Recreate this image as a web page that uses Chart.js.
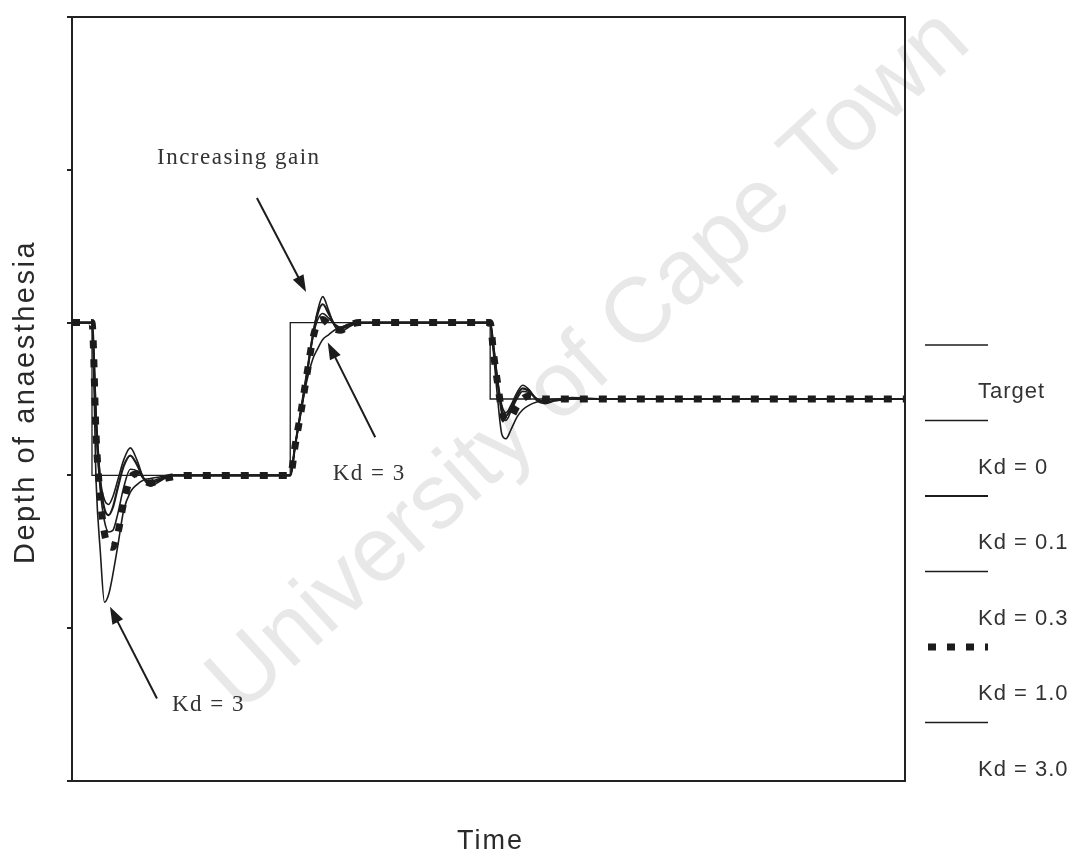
<!doctype html>
<html lang="en">
<head>
<meta charset="utf-8">
<title>Depth of anaesthesia</title>
<script src="https://cdn.jsdelivr.net/npm/chart.js@4.4.1/dist/chart.umd.min.js"></script>
<style>
  body { margin: 0; background: #fff; }
  #wrap { width: 1078px; height: 858px; position: relative; }
</style>
</head>
<body>
<div id="wrap"><canvas id="pidChart"></canvas></div>
<script>
// target (set point), stepped
var targetTime  = [0, 2.4, 26.2, 50.2, 100];
var targetDepth = [3, 2, 3, 2.5, 2.5];

// shared time base for the controller responses (0..100 across the plot)
var time = [0, 2.4, 2.9, 3.4, 3.9, 4.4, 4.9, 5.5, 6.2, 7.0, 7.8, 8.6, 9.4, 10.5, 12, 14, 18, 22,
            26.2, 26.8, 27.5, 28.2, 28.9, 29.5, 30.1, 30.8, 31.5, 32.3, 33.2, 34.5, 36.5, 40, 45,
            50.2, 50.6, 51.1, 51.6, 52.1, 52.7, 53.4, 54.1, 54.9, 55.8, 56.8, 58, 60, 64, 70, 80, 90, 100];

var kd0 = [3, 3, 2.4, 1.98, 1.84, 1.81, 1.86, 1.97, 2.1, 2.18, 2.1, 1.98, 1.93, 1.96, 2.0, 2.0, 2.0, 2.0,
           2.0, 2.2, 2.43, 2.67, 2.92, 3.08, 3.17, 3.08, 2.98, 2.94, 2.97, 3.0, 3.0, 3.0, 3.0,
           3, 2.85, 2.62, 2.46, 2.41, 2.46, 2.54, 2.59, 2.56, 2.49, 2.47, 2.49, 2.51, 2.5, 2.5, 2.5, 2.5, 2.5];
var kd01 = [3, 3, 2.35, 1.95, 1.78, 1.74, 1.79, 1.92, 2.06, 2.13, 2.07, 1.98, 1.95, 1.97, 2.0, 2.0, 2.0, 2.0,
            2.0, 2.2, 2.43, 2.67, 2.91, 3.06, 3.12, 3.06, 2.99, 2.96, 2.98, 3.0, 3.0, 3.0, 3.0,
            3, 2.84, 2.61, 2.43, 2.39, 2.44, 2.52, 2.57, 2.55, 2.5, 2.48, 2.49, 2.5, 2.5, 2.5, 2.5, 2.5, 2.5];
var kd03 = [3, 3, 2.3, 1.9, 1.7, 1.63, 1.64, 1.75, 1.92, 2.04, 2.03, 1.98, 1.96, 1.98, 2.0, 2.0, 2.0, 2.0,
            2.0, 2.2, 2.43, 2.66, 2.9, 3.02, 3.06, 3.03, 2.99, 2.97, 2.99, 3.0, 3.0, 3.0, 3.0,
            3, 2.83, 2.6, 2.4, 2.36, 2.42, 2.5, 2.55, 2.54, 2.5, 2.48, 2.49, 2.5, 2.5, 2.5, 2.5, 2.5, 2.5];
var kd1 = [3, 3, 2.25, 1.85, 1.62, 1.54, 1.53, 1.62, 1.82, 1.98, 2.01, 1.97, 1.95, 1.97, 1.99, 2.0, 2.0, 2.0,
           2.0, 2.2, 2.42, 2.66, 2.89, 3.0, 3.02, 2.99, 2.96, 2.95, 2.98, 3.0, 3.0, 3.0, 3.0,
           3, 2.8, 2.6, 2.42, 2.36, 2.38, 2.45, 2.5, 2.52, 2.51, 2.5, 2.5, 2.5, 2.5, 2.5, 2.5, 2.5, 2.5];
var kd3 = [3, 3, 1.95, 1.5, 1.17, 1.22, 1.35, 1.54, 1.77, 1.89, 1.94, 1.97, 1.98, 1.99, 2.0, 2.0, 2.0, 2.0,
           2.0, 2.2, 2.42, 2.62, 2.76, 2.83, 2.89, 2.92, 2.95, 2.97, 2.985, 2.995, 3.0, 3.0, 3.0,
           3, 2.8, 2.5, 2.27, 2.24, 2.3, 2.38, 2.43, 2.46, 2.48, 2.49, 2.5, 2.5, 2.5, 2.5, 2.5, 2.5, 2.5];

var seriesNames = ['Target', 'Kd = 0', 'Kd = 0.1', 'Kd = 0.3', 'Kd = 1.0', 'Kd = 3.0'];

function pts(xs, ys) {
  return xs.map(function (t, i) { return { x: t, y: ys[i] }; });
}

var ink = '#1c1c1c';

var datasets = [
  { label: seriesNames[0], data: pts(targetTime, targetDepth), stepped: 'before', borderColor: ink, borderWidth: 1.3 },
  { label: seriesNames[1], data: pts(time, kd0),  borderColor: ink, borderWidth: 1.6, cubicInterpolationMode: 'monotone' },
  { label: seriesNames[2], data: pts(time, kd01), borderColor: ink, borderWidth: 2.2, cubicInterpolationMode: 'monotone' },
  { label: seriesNames[3], data: pts(time, kd03), borderColor: ink, borderWidth: 1.6, cubicInterpolationMode: 'monotone' },
  { label: seriesNames[4], data: pts(time, kd1),  borderColor: ink, borderWidth: 7, borderDash: [8, 11], borderCapStyle: 'butt', cubicInterpolationMode: 'monotone' },
  { label: seriesNames[5], data: pts(time, kd3),  borderColor: ink, borderWidth: 1.6, cubicInterpolationMode: 'monotone' }
];

// annotation text + arrows, in data units
var notes = [
  { text: 'Increasing gain', at: [10.2, 4.08], from: [22.2, 3.815], to: [28.1, 3.2] },
  { text: 'Kd = 3', at: [31.3, 2.01], from: [36.4, 2.25], to: [30.7, 2.87] },
  { text: 'Kd = 3', at: [12.0, 0.5], from: [10.2, 0.54], to: [4.56, 1.14] }
];

function arrow(ctx, x1, y1, x2, y2) {
  var a = Math.atan2(y2 - y1, x2 - x1), len = 17, w = 6;
  ctx.beginPath();
  ctx.moveTo(x1, y1);
  ctx.lineTo(x2 - Math.cos(a) * len * 0.8, y2 - Math.sin(a) * len * 0.8);
  ctx.stroke();
  ctx.beginPath();
  ctx.moveTo(x2, y2);
  ctx.lineTo(x2 - Math.cos(a) * len - Math.sin(a) * w, y2 - Math.sin(a) * len + Math.cos(a) * w);
  ctx.lineTo(x2 - Math.cos(a) * len + Math.sin(a) * w, y2 - Math.sin(a) * len - Math.cos(a) * w);
  ctx.closePath();
  ctx.fill();
}

var extras = {
  id: 'extras',
  beforeDraw: function (chart) {
    var ctx = chart.ctx;
    ctx.save();
    ctx.fillStyle = '#fff';
    ctx.fillRect(0, 0, chart.width, chart.height);
    // faint watermark
    ctx.translate(590, 362);
    ctx.rotate(-42.4 * Math.PI / 180);
    ctx.font = '92px "Liberation Sans", Arial, sans-serif';
    ctx.fillStyle = '#e8e8e8';
    ctx.textAlign = 'center';
    ctx.textBaseline = 'middle';
    ctx.fillText('University of Cape Town', 0, 0);
    ctx.restore();
  },
  afterDatasetsDraw: function (chart) {
    var ctx = chart.ctx, a = chart.chartArea, xs = chart.scales.x, ys = chart.scales.y;
    ctx.save();
    // top and right frame
    ctx.strokeStyle = '#222';
    ctx.lineWidth = 2;
    ctx.beginPath();
    ctx.moveTo(a.left, a.top);
    ctx.lineTo(a.right, a.top);
    ctx.lineTo(a.right, a.bottom);
    ctx.stroke();
    // annotations
    ctx.strokeStyle = ink;
    ctx.lineWidth = 2;
    ctx.font = '23px "Liberation Serif", "Times New Roman", serif';
    ctx.letterSpacing = '1.5px';
    ctx.textBaseline = 'middle';
    notes.forEach(function (n) {
      ctx.fillStyle = '#333';
      ctx.fillText(n.text, xs.getPixelForValue(n.at[0]), ys.getPixelForValue(n.at[1]));
      ctx.fillStyle = ink;
      arrow(ctx, xs.getPixelForValue(n.from[0]), ys.getPixelForValue(n.from[1]),
                 xs.getPixelForValue(n.to[0]), ys.getPixelForValue(n.to[1]));
    });
    ctx.restore();
  },
  afterDraw: function (chart) {
    var ctx = chart.ctx, a = chart.chartArea;
    ctx.save();
    // axis titles
    ctx.fillStyle = '#2a2a2a';
    ctx.font = '29px "Liberation Sans", Arial, sans-serif';
    ctx.letterSpacing = '2.5px';
    ctx.textAlign = 'center';
    ctx.textBaseline = 'middle';
    ctx.save();
    ctx.translate(26, 402);
    ctx.rotate(-Math.PI / 2);
    ctx.fillText('Depth of anaesthesia', 0, 0);
    ctx.restore();
    ctx.font = '27px "Liberation Sans", Arial, sans-serif';
    ctx.letterSpacing = '2px';
    ctx.fillText('Time', (a.left + a.right) / 2 + 2, 842);

    // legend: sample line above each label, stacked on the right
    var x0 = a.right + 20, x1 = a.right + 83, top = 345, step = 75.5;
    ctx.font = '22px "Liberation Sans", Arial, sans-serif';
    ctx.letterSpacing = '1px';
    ctx.textAlign = 'left';
    chart.data.datasets.forEach(function (ds, i) {
      var y = top + i * step;
      ctx.strokeStyle = ds.borderColor;
      ctx.lineWidth = Math.min(ds.borderWidth, 7);
      ctx.setLineDash(ds.borderDash || []);
      ctx.lineCap = 'butt';
      ctx.beginPath();
      ctx.moveTo(x0 + (ds.borderDash ? 3 : 0), y);
      ctx.lineTo(x1, y);
      ctx.stroke();
      ctx.setLineDash([]);
      ctx.fillStyle = '#333';
      ctx.fillText(ds.label, a.right + 73, y + 47);
    });
    ctx.restore();
  }
};

new Chart(document.getElementById('pidChart'), {
  type: 'line',
  data: { datasets: datasets },
  options: {
    responsive: true,
    maintainAspectRatio: false,
    animation: false,
    layout: { padding: { left: 0, right: 173, top: 17, bottom: 0 } },
    plugins: { legend: { display: false }, tooltip: { enabled: false } },
    elements: { point: { radius: 0 } },
    scales: {
      x: {
        type: 'linear', min: 0, max: 100,
        ticks: { display: false },
        grid: { display: false },
        border: { display: true, color: '#222', width: 2 },
        afterFit: function (s) { s.height = 77; }
      },
      y: {
        min: 0, max: 5,
        ticks: { display: false, stepSize: 1 },
        grid: { display: true, drawOnChartArea: false, drawTicks: true, tickLength: 5, color: '#222', lineWidth: 2 },
        border: { display: true, color: '#222', width: 2 },
        afterFit: function (s) { s.width = 72; }
      }
    }
  },
  plugins: [extras]
});
</script>
</body>
</html>
